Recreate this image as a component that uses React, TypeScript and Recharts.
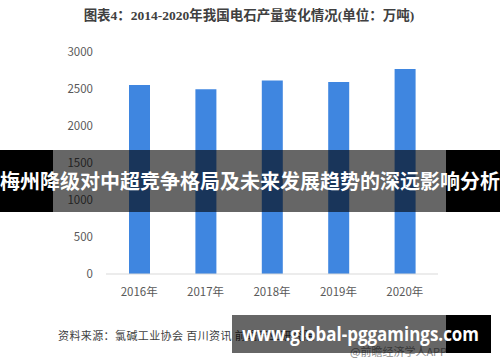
import { BarChart, Bar, XAxis, YAxis } from 'recharts';

const years = ['2016年', '2017年', '2018年', '2019年', '2020年'];
const output = [2555, 2495, 2615, 2595, 2770];
const yTicks = [0, 500, 1000, 1500, 2000, 2500, 3000];

const chartData = years.map((year, i) => ({ year, value: output[i] }));

const tickStyle = { fontSize: 11.5, fill: '#595959', fontFamily: "'Noto Sans CJK SC', sans-serif" };

export default function App() {
  return (
    <div
      style={{
        position: 'absolute',
        left: 0,
        top: 0,
        width: 500,
        height: 362,
        background: '#fff',
        overflow: 'hidden',
        fontFamily: "'Noto Sans CJK SC', sans-serif",
      }}
    >
      <div
        style={{
          position: 'absolute',
          left: 0,
          top: 7,
          width: 498,
          textAlign: 'center',
          fontSize: 13.5,
          fontWeight: 'bold',
          color: '#404040',
          fontFamily: "'Liberation Serif', 'Noto Sans CJK SC', serif",
          lineHeight: '18px',
        }}
      >
        图表4：2014-2020年我国电石产量变化情况(单位：万吨)
      </div>

      <div style={{ position: 'absolute', left: 0, top: 0 }}>
        <BarChart
          width={500}
          height={362}
          data={chartData}
          margin={{ top: 52, right: 62, bottom: 58, left: 0 }}
        >
          <XAxis
            dataKey="year"
            height={30}
            axisLine={{ stroke: '#d9d9d9' }}
            tickLine={false}
            tickSize={0}
            tickMargin={14}
            tick={tickStyle}
          />
          <YAxis
            width={106}
            domain={[0, 3000]}
            ticks={yTicks}
            axisLine={false}
            tickLine={false}
            tickSize={0}
            tickMargin={13}
            tick={tickStyle}
          />
          <Bar dataKey="value" fill="#3f86e0" barSize={21} isAnimationActive={false} />
        </BarChart>
      </div>

      <div
        style={{
          position: 'absolute',
          left: 58,
          top: 327,
          fontSize: 11,
          letterSpacing: 0.4,
          color: '#404040',
          whiteSpace: 'nowrap',
          lineHeight: '16px',
        }}
      >
        资料来源：氯碱工业协会 百川资讯 前瞻产业研究院
      </div>
      <div
        style={{
          position: 'absolute',
          left: 350,
          top: 343,
          fontSize: 11,
          color: '#8c8c8c',
          whiteSpace: 'nowrap',
          lineHeight: '16px',
        }}
      >
        @前瞻经济学人APP
      </div>

      {/* headline banner */}
      <div style={{ position: 'absolute', left: 0, top: 150, width: 53, height: 62, background: '#000' }} />
      <div style={{ position: 'absolute', left: 53, top: 150, width: 393, height: 62, background: 'rgba(0,0,0,0.6)' }} />
      <div style={{ position: 'absolute', left: 446, top: 150, width: 54, height: 62, background: '#000' }} />
      <div
        style={{
          position: 'absolute',
          left: 0,
          top: 150,
          width: 498,
          height: 62,
          lineHeight: '62px',
          textAlign: 'center',
          color: '#fff',
          fontSize: 20,
          fontWeight: 'bold',
          whiteSpace: 'nowrap',
        }}
      >
        梅州降级对中超竞争格局及未来发展趋势的深远影响分析
      </div>

      {/* url banner */}
      <div style={{ position: 'absolute', left: 232, top: 315, width: 214, height: 38, background: 'rgba(0,0,0,0.6)' }} />
      <div style={{ position: 'absolute', left: 446, top: 315, width: 45, height: 38, background: '#000' }} />
      <svg style={{ position: 'absolute', left: 232, top: 315 }} width={259} height={38}>
        <text
          x={10}
          y={26}
          textLength={237}
          lengthAdjust="spacingAndGlyphs"
          fill="#fff"
          fontSize={20}
          fontWeight="bold"
          fontFamily="'Open Sans', sans-serif"
        >
          www.global-pggamings.com
        </text>
      </svg>
    </div>
  );
}
